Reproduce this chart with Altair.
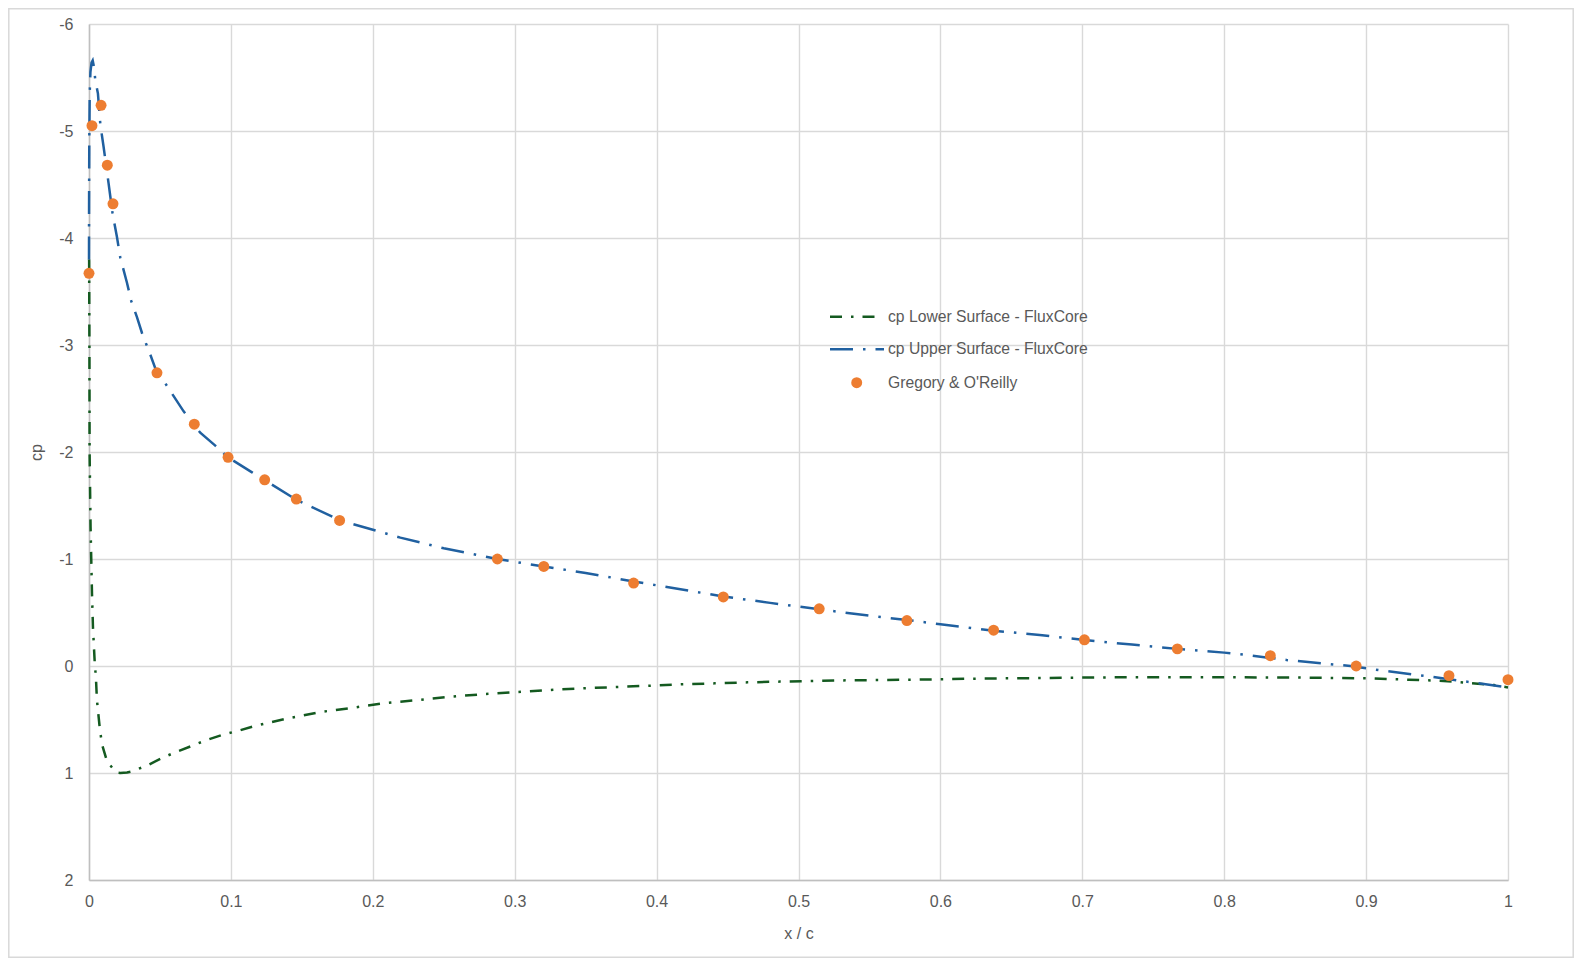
import altair as alt
import pandas as pd

# ---------------- data ----------------
upper_x = [0.0, 0.00005, 0.0002, 0.0005, 0.001, 0.0018, 0.0026, 0.0035, 0.0044, 0.0063,
           0.008, 0.0103, 0.0138, 0.0166, 0.0197, 0.022, 0.0268, 0.0298, 0.0338, 0.0374,
           0.0432, 0.0479, 0.0543, 0.0667, 0.0784, 0.089, 0.098, 0.1149, 0.1466, 0.1771,
           0.2194, 0.25, 0.2878, 0.3205, 0.35, 0.3838, 0.42, 0.447, 0.48, 0.5146,
           0.55, 0.5764, 0.6, 0.6375, 0.67, 0.7, 0.735, 0.767, 0.8, 0.818,
           0.844, 0.889, 0.91, 0.946, 0.97, 0.983, 1.0]
upper_cp = [-3.8, -4.3, -4.9, -5.35, -5.55, -5.64, -5.66, -5.6, -5.48, -5.35,
            -5.06, -4.85, -4.51, -4.23, -4.01, -3.82, -3.58, -3.41, -3.26, -3.11,
            -2.91, -2.74, -2.63, -2.38, -2.18, -2.06, -1.95, -1.81, -1.55, -1.36,
            -1.20, -1.10, -1.0, -0.93, -0.87, -0.79, -0.71, -0.65, -0.59, -0.53,
            -0.47, -0.43, -0.39, -0.33, -0.29, -0.245, -0.20, -0.16, -0.125, -0.10,
            -0.056, 0.0, 0.04, 0.10, 0.145, 0.168, 0.20]

lower_x = [0.0, 0.0001, 0.0003, 0.0004, 0.0007, 0.0011, 0.0016, 0.0021, 0.0028, 0.004,
           0.0049, 0.0056, 0.0075, 0.0091, 0.0127, 0.019, 0.022, 0.0268, 0.0303, 0.0409,
           0.0514, 0.062, 0.0737, 0.0832, 0.0949, 0.1066, 0.117, 0.140, 0.163, 0.186,
           0.209, 0.232, 0.255, 0.279, 0.302, 0.325, 0.348, 0.372, 0.395, 0.418,
           0.441, 0.464, 0.487, 0.511, 0.534, 0.558, 0.581, 0.627, 0.674, 0.72,
           0.767, 0.814, 0.85, 0.9, 0.93, 0.95, 0.965, 0.99, 1.0]
lower_cp = [-3.8, -3.79, -2.95, -2.02, -1.71, -1.30, -0.99, -0.68, -0.36, -0.04,
            0.115, 0.32, 0.57, 0.73, 0.89, 0.995, 1.0, 0.995, 0.985, 0.93,
            0.86, 0.80, 0.74, 0.69, 0.64, 0.60, 0.56, 0.49, 0.43, 0.39,
            0.346, 0.318, 0.287, 0.262, 0.243, 0.224, 0.209, 0.196, 0.184, 0.171,
            0.162, 0.153, 0.146, 0.140, 0.134, 0.131, 0.128, 0.118, 0.112, 0.106,
            0.106, 0.106, 0.108, 0.115, 0.128, 0.137, 0.15, 0.178, 0.2]

exp_x = [0.0, 0.0021, 0.0085, 0.0129, 0.0169, 0.0479, 0.0742, 0.098, 0.1238, 0.1461,
         0.1766, 0.2878, 0.3205, 0.3838, 0.447, 0.5146, 0.5764, 0.6375, 0.7015, 0.767,
         0.8325, 0.893, 0.9584, 1.0]
exp_cp = [-3.67, -5.05, -5.24, -4.68, -4.32, -2.74, -2.26, -1.95, -1.74, -1.56,
          -1.36, -1.00, -0.93, -0.775, -0.645, -0.535, -0.425, -0.335, -0.245, -0.16,
          -0.096, 0.0, 0.09, 0.128]

legend_labels = ["cp Lower Surface - FluxCore", "cp Upper Surface - FluxCore", "Gregory & O'Reilly"]
x_ticks = [0, 0.1, 0.2, 0.3, 0.4, 0.5, 0.6, 0.7, 0.8, 0.9, 1]
y_ticks = [-6, -5, -4, -3, -2, -1, 0, 1, 2]

# ---------------- styling ----------------
BLUE = "#2060A0"
GREEN = "#145A20"
ORANGE = "#ED7D31"
TXT = "#595959"
FONT = "Liberation Sans"
W, H = 1419, 856

df_up = pd.DataFrame({"x": upper_x, "cp": upper_cp, "i": range(len(upper_x))})
df_lo = pd.DataFrame({"x": lower_x, "cp": lower_cp, "i": range(len(lower_x))})
df_ex = pd.DataFrame({"x": exp_x, "cp": exp_cp})

xs = alt.Scale(domain=[0, 1], nice=False, zero=False)
ys = alt.Scale(domain=[-6, 2], nice=False, zero=False, reverse=True)

xaxis = alt.Axis(values=x_ticks, labelExpr="'' + datum.value", grid=True, ticks=False,
                 labelPadding=13, titlePadding=16, labelFlush=False, domainWidth=1.5)
yaxis = alt.Axis(values=y_ticks, labelExpr="'' + datum.value", grid=True, ticks=False,
                 labelPadding=16, titlePadding=14, labelFlush=False, domainWidth=1.5)

lower = alt.Chart(df_lo).mark_line(
    color=GREEN, strokeWidth=2.5, strokeDash=[12, 9, 2.5, 9], strokeCap="butt"
).encode(
    x=alt.X("x:Q", scale=xs, axis=xaxis, title="x / c"),
    y=alt.Y("cp:Q", scale=ys, axis=yaxis, title="cp"),
    order="i:Q",
)

upper = alt.Chart(df_up).mark_line(
    color=BLUE, strokeWidth=2.5, strokeDash=[23, 10, 2.5, 10], strokeCap="butt"
).encode(
    x=alt.X("x:Q", scale=xs),
    y=alt.Y("cp:Q", scale=ys),
    order="i:Q",
)

points = alt.Chart(df_ex).mark_circle(color=ORANGE, size=120, opacity=1).encode(
    x=alt.X("x:Q", scale=xs),
    y=alt.Y("cp:Q", scale=ys),
)

# ---------------- legend (drawn inside the plot) ----------------
leg_rows = [292.7, 325.3, 358.7]
leg_layers = []
for k, (lab, yy) in enumerate(zip(legend_labels, leg_rows)):
    d = pd.DataFrame({"label": [lab]})
    if k == 0:
        sym = alt.Chart(d).mark_rule(color=GREEN, strokeWidth=2.5,
                                     strokeDash=[12, 9, 2.5, 9], strokeCap="butt").encode(
            x=alt.value(741), x2=alt.value(787), y=alt.value(yy))
    elif k == 1:
        sym = alt.Chart(d).mark_rule(color=BLUE, strokeWidth=2.5,
                                     strokeDash=[23, 10, 2.5, 10], strokeCap="butt").encode(
            x=alt.value(741), x2=alt.value(795), y=alt.value(yy))
    else:
        sym = alt.Chart(d).mark_circle(color=ORANGE, size=120, opacity=1).encode(
            x=alt.value(767.7), y=alt.value(yy))
    txt = alt.Chart(d).mark_text(align="left", baseline="middle", font=FONT,
                                 fontSize=15.7, color=TXT).encode(
        x=alt.value(799), y=alt.value(yy), text="label:N")
    leg_layers += [sym, txt]

border = alt.Chart(pd.DataFrame({"b": [1]})).mark_rect(
    fill="transparent", stroke="#D9D9D9", strokeWidth=1.5
).encode(x=alt.value(-80.2), x2=alt.value(W + 65.2), y=alt.value(-15.2), y2=alt.value(H + 77.2))

chart = alt.layer(border, lower, upper, points, *leg_layers).properties(
    width=W, height=H,
    autosize=alt.AutoSizeParams(type="none"),
    padding={"left": 81, "top": 16, "right": 66, "bottom": 78},
    background="white",
).configure_axis(
    labelFont=FONT, labelFontSize=16, labelColor=TXT,
    titleFont=FONT, titleFontSize=16, titleFontWeight="normal", titleColor=TXT,
    gridColor="#D9D9D9", gridWidth=1.4, domainColor="#BFBFBF",
).configure_view(strokeWidth=0)

chart.save("out.html", embed_options={"renderer": "svg", "actions": False})
